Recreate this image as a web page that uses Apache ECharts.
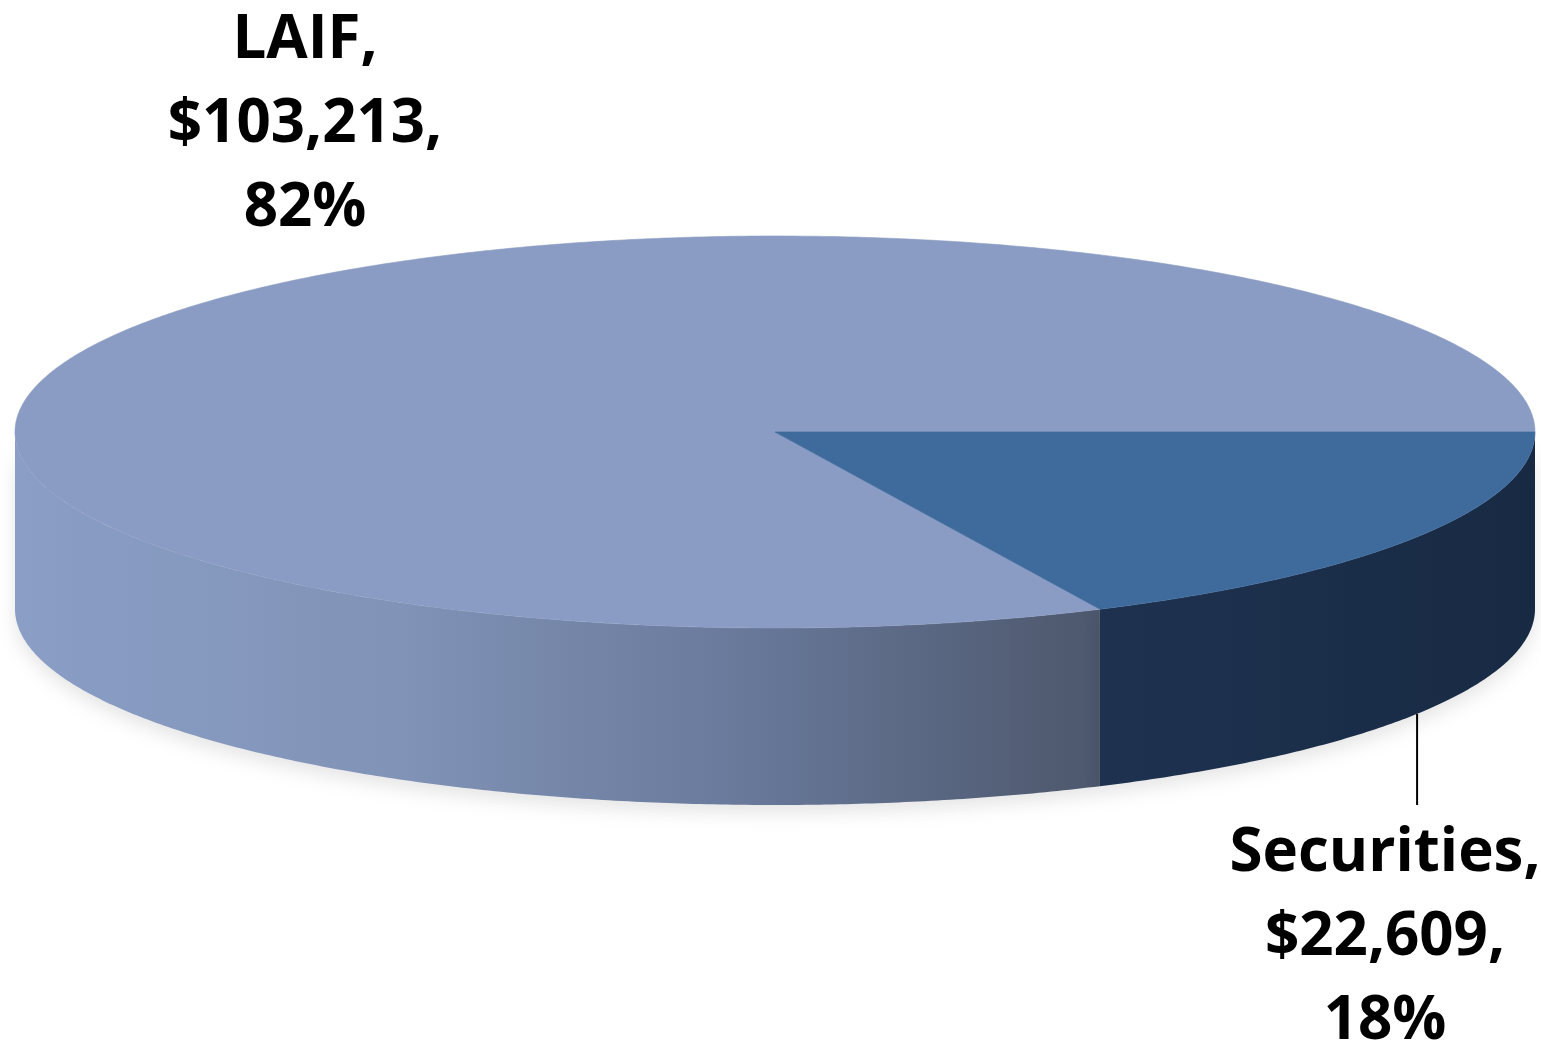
<!DOCTYPE html>
<html>
<head>
<meta charset="utf-8">
<title>Portfolio Composition</title>
<script src="https://cdn.jsdelivr.net/npm/echarts@6/dist/echarts.min.js"></script>
<style>
  html, body { margin: 0; padding: 0; background: #ffffff; }
  #chart { width: 1541px; height: 1050px; }
</style>
</head>
<body>
<div id="chart"></div>
<script>
// Holdings by investment type (dollars, thousands)
const categories = ['LAIF', 'Securities'];
const amounts = [103213, 22609];

const total = amounts.reduce((s, v) => s + v, 0);

// Slice appearance: flat top face, shaded cylinder wall
const palette = [
  {
    top: '#8a9cc3',
    wall: [[0, '#8a9ec6'], [0.35, '#8193b6'], [0.65, '#6a7b9d'], [1, '#4d576c']]
  },
  {
    top: '#3e6a9c',
    wall: [[0, '#1e3250'], [1, '#182a43']]
  }
];

// Label placement for each slice (middle line centre), plus optional leader end
const labelLayout = [
  { x: 305, y: 125, leaderToY: null },
  { x: 1385, y: 938, leaderToY: 805 }
];

// Tilted-disc geometry; slices sweep counter-clockwise on screen from 3 o'clock
const disc = { cx: 775, cy: 432, rx: 760, ry: 196, depth: 177, startDeg: 0 };

function fmtMoney(v) {
  return '$' + v.toLocaleString('en-US');
}

function ellipsePt(a, dz) {
  return [disc.cx + disc.rx * Math.cos(a), disc.cy + disc.ry * Math.sin(a) + dz];
}

function arcPts(a0, a1, dz) {
  const pts = [];
  const n = Math.max(2, Math.ceil((a1 - a0) / (Math.PI / 360)));
  for (let i = 0; i <= n; i++) {
    pts.push(ellipsePt(a0 + (a1 - a0) * i / n, dz));
  }
  return pts;
}

function renderItem(params, api) {
  const idx = params.dataIndex;
  const value = api.value(0);
  let before = 0;
  for (let i = 0; i < idx; i++) before += amounts[i];
  const start = disc.startDeg * Math.PI / 180;
  // counter-clockwise sweep: angles decrease (screen y points down)
  let hi = start - 2 * Math.PI * before / total;
  let lo = hi - 2 * Math.PI * value / total;
  while (lo < 0) { lo += 2 * Math.PI; hi += 2 * Math.PI; }
  const pal = palette[idx];
  const children = [];

  // Front wall: only the part of the rim facing the viewer (0..PI)
  const wLo = Math.max(lo, 0);
  const wHi = Math.min(hi, Math.PI);
  if (wHi > wLo) {
    const top = arcPts(wLo, wHi, 0);
    const bottom = arcPts(wLo, wHi, disc.depth).reverse();
    children.push({
      type: 'polygon',
      z2: 1,
      shape: { points: top.concat(bottom) },
      style: {
        fill: new echarts.graphic.LinearGradient(0, 0, 1, 0,
          pal.wall.map(s => ({ offset: s[0], color: s[1] }))),
        shadowBlur: 18,
        shadowOffsetY: 8,
        shadowColor: 'rgba(0,0,0,0.10)'
      }
    });
  }

  // Top face
  children.push({
    type: 'polygon',
    z2: 2,
    shape: { points: [[disc.cx, disc.cy]].concat(arcPts(lo, hi, 0)) },
    style: { fill: pal.top, stroke: pal.top, lineWidth: 0.6 }
  });

  // Data label
  const pct = Math.round(100 * value / total);
  const lay = labelLayout[idx];
  children.push({
    type: 'text',
    z2: 4,
    style: {
      text: categories[idx] + ',\n' + fmtMoney(value) + ',\n' + pct + '%',
      x: lay.x,
      y: lay.y,
      fill: '#000000',
      fontFamily: 'Open Sans',
      fontWeight: 'bold',
      fontSize: 60,
      lineHeight: 84,
      align: 'center',
      verticalAlign: 'middle'
    }
  });

  // Leader line from the rim's lower edge at the slice's middle angle
  if (lay.leaderToY != null) {
    const mid = (lo + hi) / 2;
    const p = ellipsePt(mid, disc.depth);
    children.push({
      type: 'line',
      z2: 3,
      shape: { x1: p[0], y1: p[1], x2: p[0], y2: lay.leaderToY },
      style: { stroke: '#000000', lineWidth: 2 }
    });
  }

  return { type: 'group', children: children };
}

const chart = echarts.init(document.getElementById('chart'), null, { renderer: 'canvas' });
chart.setOption({
  backgroundColor: '#ffffff',
  animation: false,
  series: [{
    type: 'custom',
    coordinateSystem: 'none',
    silent: true,
    renderItem: renderItem,
    data: amounts.map((v, i) => ({ name: categories[i], value: [v] }))
  }]
});
</script>
</body>
</html>
